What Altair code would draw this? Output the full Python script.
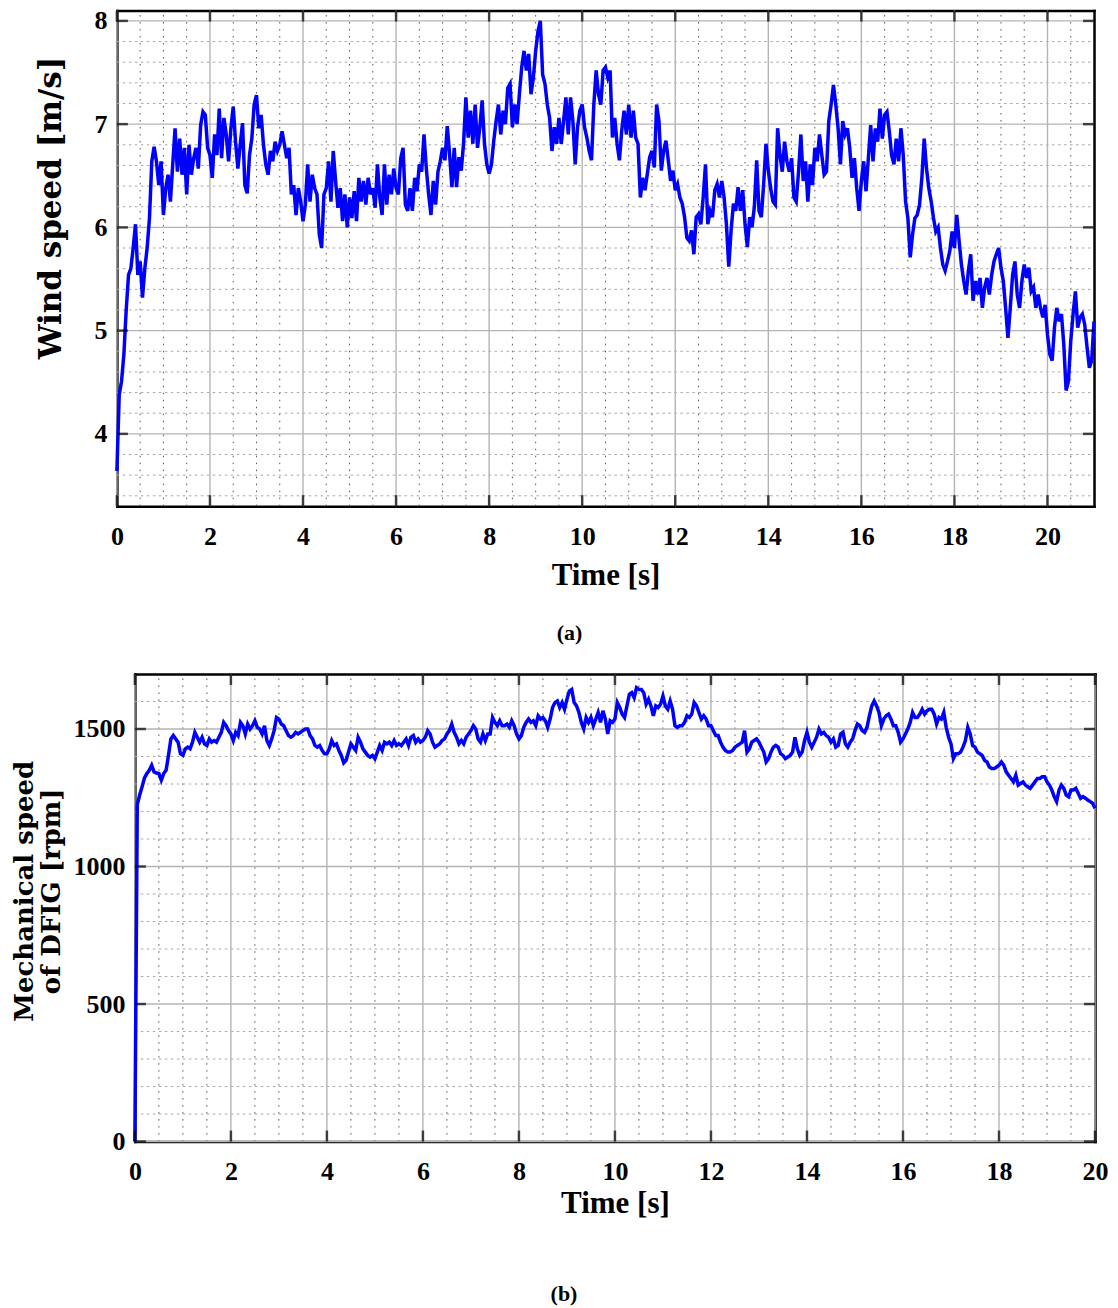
import altair as alt
import pandas as pd

STEP = 0.05  # sampling interval of the read-off values [s]

# Panel (a): wind speed [m/s], sampled every 0.05 s from t = 0 to 21 s
wind_speed = [
    3.64, 4.38, 4.51, 4.77, 5.20, 5.54, 5.60, 5.80, 6.03, 5.54, 5.67, 5.32, 5.60, 5.80, 6.09, 6.64, 6.78, 6.64, 6.41, 6.64,
    6.12, 6.38, 6.51, 6.25, 6.61, 6.96, 6.54, 6.86, 6.51, 6.77, 6.32, 6.80, 6.51, 6.67, 6.77, 6.57, 6.99, 7.12, 7.09, 6.77,
    6.70, 6.48, 6.90, 6.70, 7.15, 6.67, 7.06, 6.90, 6.64, 6.96, 7.17, 6.83, 6.57, 6.80, 7.01, 6.41, 6.33, 6.70, 6.86, 7.19,
    7.28, 6.96, 7.09, 6.80, 6.61, 6.51, 6.74, 6.64, 6.83, 6.74, 6.80, 6.93, 6.80, 6.67, 6.77, 6.32, 6.41, 6.12, 6.38, 6.25,
    6.06, 6.22, 6.61, 6.25, 6.51, 6.38, 6.32, 5.93, 5.80, 6.32, 6.38, 6.64, 6.25, 6.74, 6.45, 6.19, 6.38, 6.06, 6.32, 6.00,
    6.29, 6.09, 6.35, 6.06, 6.48, 6.25, 6.45, 6.22, 6.48, 6.32, 6.38, 6.19, 6.61, 6.29, 6.12, 6.61, 6.22, 6.51, 6.32, 6.57,
    6.38, 6.32, 6.67, 6.77, 6.22, 6.16, 6.38, 6.16, 6.48, 6.35, 6.61, 6.54, 6.90, 6.57, 6.32, 6.12, 6.45, 6.22, 6.54, 6.64,
    6.77, 6.65, 6.98, 6.71, 6.39, 6.77, 6.39, 6.68, 6.55, 6.81, 7.26, 6.87, 7.13, 6.81, 7.19, 6.77, 6.97, 7.23, 6.81, 6.61,
    6.52, 6.61, 6.84, 7.03, 7.19, 6.90, 7.13, 7.00, 7.35, 7.39, 6.97, 7.19, 7.00, 7.29, 7.55, 7.71, 7.52, 7.68, 7.29, 7.45,
    7.71, 7.90, 8.00, 7.48, 7.39, 7.19, 7.06, 6.74, 6.97, 6.81, 7.06, 6.81, 7.03, 7.26, 6.90, 7.26, 7.03, 6.61, 6.97, 7.13,
    7.19, 6.97, 6.87, 6.74, 6.65, 7.19, 7.52, 7.29, 7.19, 7.52, 7.55, 7.45, 7.52, 6.87, 7.06, 6.81, 6.65, 6.94, 7.13, 6.90,
    7.19, 6.87, 7.13, 6.87, 6.81, 6.29, 6.48, 6.36, 6.52, 6.68, 6.74, 6.58, 7.19, 7.03, 6.55, 6.74, 6.84, 6.65, 6.45, 6.55,
    6.36, 6.42, 6.29, 6.23, 6.10, 5.90, 5.87, 5.97, 5.74, 6.10, 6.13, 6.03, 6.29, 6.61, 6.03, 6.16, 6.10, 6.36, 6.42, 6.29,
    6.45, 6.29, 6.03, 5.62, 5.97, 6.23, 6.16, 6.39, 6.16, 6.36, 6.03, 5.81, 6.10, 6.00, 6.20, 6.65, 6.16, 6.10, 6.42, 6.81,
    6.55, 6.38, 6.25, 6.22, 6.96, 6.70, 6.54, 6.83, 6.64, 6.54, 6.67, 6.29, 6.25, 6.54, 6.90, 6.45, 6.64, 6.25, 6.61, 6.41,
    6.77, 6.64, 6.90, 6.70, 6.51, 6.54, 7.03, 7.19, 7.38, 7.19, 6.96, 6.61, 7.03, 6.90, 6.96, 6.77, 6.48, 6.67, 6.38, 6.16,
    6.45, 6.64, 6.35, 6.67, 6.99, 6.64, 6.96, 6.83, 7.15, 6.86, 7.09, 7.12, 6.93, 6.70, 6.61, 6.86, 6.64, 6.96, 6.70, 6.25,
    6.09, 5.71, 5.93, 6.09, 6.12, 6.22, 6.48, 6.86, 6.57, 6.38, 6.25, 6.09, 5.96, 6.00, 5.80, 5.64, 5.58, 5.67, 5.77, 5.96,
    5.80, 6.12, 5.87, 5.64, 5.48, 5.35, 5.58, 5.74, 5.29, 5.48, 5.35, 5.51, 5.22, 5.42, 5.51, 5.35, 5.54, 5.67, 5.74, 5.80,
    5.61, 5.48, 5.22, 4.93, 5.22, 5.54, 5.67, 5.35, 5.22, 5.48, 5.64, 5.51, 5.61, 5.38, 5.42, 5.22, 5.35, 5.22, 5.13, 5.25,
    4.96, 4.77, 4.71, 5.03, 5.22, 5.09, 5.16, 4.87, 4.42, 4.51, 4.90, 5.16, 5.38, 5.03, 5.13, 5.16, 5.06, 4.84, 4.64, 4.71,
    5.09,
]

# Panel (b): mechanical speed of DFIG [rpm], sampled every 0.05 s from t = 0 to 20 s
mech_speed = [
    0, 1225, 1260, 1290, 1322, 1338, 1350, 1368, 1344, 1340, 1338, 1314, 1338, 1350, 1404, 1464, 1476, 1464, 1452, 1410,
    1404, 1428, 1434, 1428, 1452, 1488, 1470, 1452, 1470, 1446, 1440, 1464, 1452, 1458, 1452, 1470, 1488, 1524, 1512, 1494,
    1482, 1458, 1488, 1476, 1524, 1512, 1482, 1518, 1500, 1512, 1530, 1506, 1500, 1482, 1512, 1458, 1440, 1464, 1494, 1542,
    1536, 1518, 1512, 1494, 1476, 1470, 1476, 1488, 1482, 1488, 1494, 1500, 1500, 1476, 1464, 1440, 1434, 1440, 1422, 1410,
    1410, 1428, 1458, 1440, 1446, 1422, 1404, 1377, 1386, 1416, 1446, 1434, 1422, 1470, 1452, 1428, 1416, 1404, 1398, 1404,
    1392, 1416, 1440, 1422, 1452, 1446, 1452, 1440, 1458, 1440, 1446, 1440, 1452, 1464, 1440, 1470, 1476, 1452, 1464, 1452,
    1458, 1470, 1494, 1482, 1452, 1434, 1440, 1446, 1458, 1464, 1482, 1494, 1518, 1488, 1470, 1446, 1458, 1446, 1470, 1482,
    1494, 1512, 1500, 1464, 1452, 1482, 1458, 1482, 1482, 1542, 1524, 1512, 1530, 1512, 1512, 1518, 1506, 1530, 1512, 1482,
    1464, 1476, 1506, 1524, 1536, 1524, 1530, 1512, 1548, 1536, 1542, 1530, 1506, 1536, 1578, 1596, 1602, 1578, 1596, 1572,
    1608, 1638, 1644, 1596, 1584, 1560, 1524, 1500, 1542, 1524, 1542, 1512, 1536, 1560, 1524, 1566, 1536, 1482, 1530, 1524,
    1536, 1596, 1578, 1554, 1542, 1584, 1626, 1632, 1614, 1650, 1644, 1644, 1632, 1590, 1608, 1584, 1548, 1584, 1578, 1590,
    1620, 1584, 1572, 1602, 1572, 1512, 1506, 1512, 1512, 1524, 1548, 1542, 1554, 1596, 1584, 1560, 1536, 1548, 1536, 1512,
    1512, 1494, 1476, 1476, 1452, 1434, 1422, 1416, 1416, 1422, 1434, 1440, 1446, 1452, 1494, 1416, 1428, 1452, 1458, 1464,
    1452, 1434, 1416, 1380, 1392, 1416, 1434, 1440, 1434, 1410, 1404, 1392, 1398, 1404, 1416, 1470, 1428, 1404, 1416, 1458,
    1488, 1452, 1434, 1452, 1470, 1500, 1482, 1488, 1476, 1470, 1452, 1464, 1434, 1440, 1482, 1488, 1446, 1434, 1452, 1464,
    1494, 1518, 1512, 1494, 1488, 1506, 1548, 1584, 1602, 1584, 1560, 1512, 1536, 1548, 1554, 1536, 1512, 1512, 1488, 1452,
    1464, 1482, 1500, 1524, 1560, 1542, 1542, 1554, 1572, 1554, 1566, 1572, 1572, 1554, 1518, 1542, 1536, 1560, 1506, 1470,
    1446, 1392, 1410, 1410, 1416, 1434, 1458, 1506, 1482, 1440, 1434, 1416, 1410, 1404, 1386, 1380, 1362, 1356, 1356, 1362,
    1368, 1380, 1368, 1344, 1332, 1320, 1308, 1332, 1296, 1302, 1308, 1296, 1290, 1284, 1296, 1308, 1320, 1320, 1326, 1326,
    1308, 1296, 1278, 1254, 1236, 1278, 1296, 1284, 1260, 1254, 1278, 1278, 1284, 1266, 1248, 1254, 1248, 1242, 1236, 1230,
    1212,
]

wind_time = [round(i * STEP, 2) for i in range(len(wind_speed))]
mech_time = [round(i * STEP, 2) for i in range(len(mech_speed))]

# Axis tick values and grid positions
a_x_major = list(range(0, 21, 2))
a_x_minor = [i / 2 for i in range(1, 42) if i % 4 != 0]
a_y_major = [4, 5, 6, 7, 8]
a_y_minor = [round(3.4 + 0.2 * i, 1) for i in range(24) if round((3.4 + 0.2 * i) % 1, 1) not in (0.0, 1.0)]
b_x_major = list(range(0, 21, 2))
b_x_minor = [i / 2 for i in range(1, 40) if i % 4 != 0]
b_y_major = [0, 500, 1000, 1500]
b_y_minor = [v for v in range(100, 1700, 100) if v % 500 != 0]

SERIF = "Liberation Serif"
TITLE_SERIF = "DejaVu Serif"


def panel(t, v, xdom, ydom, width, height, xrange, xmaj, xmin, ymaj, ymin,
          ytitle, ytitle_size, ytitle_pad, ytitle_y, yoffset, xtitle_pad,
          caption, cap_dx, cap_offset):
    xs = alt.Scale(domain=xdom, range=xrange, nice=False, zero=False)
    ys = alt.Scale(domain=ydom, nice=False, zero=False)
    df = pd.DataFrame({"t": t, "v": v})

    def vrules(vals, color, width_, dash=None):
        kw = dict(color=color, strokeWidth=width_)
        if dash:
            kw["strokeDash"] = dash
        return alt.Chart(pd.DataFrame({"g": vals})).mark_rule(**kw).encode(
            x=alt.X("g:Q", scale=xs, axis=None),
            y=alt.YDatum(ydom[0], scale=ys, axis=None),
            y2=alt.Y2Datum(ydom[1]),
        )

    def hrules(vals, color, width_, dash=None):
        kw = dict(color=color, strokeWidth=width_)
        if dash:
            kw["strokeDash"] = dash
        return alt.Chart(pd.DataFrame({"g": vals})).mark_rule(**kw).encode(
            y=alt.Y("g:Q", scale=ys, axis=None),
            x=alt.XDatum(xdom[0], scale=xs, axis=None),
            x2=alt.X2Datum(xdom[1]),
        )

    minor_v = vrules(xmin, "#555555", 1, [1.5, 5.5])
    minor_h = hrules(ymin, "#a8a8a8", 1, [2.5, 3.5])
    major_v = vrules(xmaj, "#b4b4b4", 1.4)
    major_h = hrules(ymaj, "#b4b4b4", 1.4)

    yaxis_kw = dict(
        orient="left", values=ymaj, format="d", title=ytitle, offset=yoffset,
        labelPadding=10, titleFont=TITLE_SERIF, titleFontSize=ytitle_size,
        titleFontWeight="bold", titlePadding=ytitle_pad, titleLineHeight=27,
        titleY=ytitle_y,
    )

    line = alt.Chart(df).mark_line(color="#0000ff", strokeWidth=3.5).encode(
        x=alt.X("t:Q", scale=xs, axis=alt.Axis(
            orient="bottom", values=xmaj, format="d", title="Time [s]",
            labelPadding=17, titleFont=SERIF, titleFontSize=31, titleFontWeight="bold",
            titlePadding=xtitle_pad)),
        y=alt.Y("v:Q", scale=ys, axis=alt.Axis(**yaxis_kw)),
    )

    frame = alt.Chart(df).mark_line(opacity=0).encode(
        x=alt.X("t:Q", scale=xs, axis=alt.Axis(orient="top", labels=False, title=None)),
        y=alt.Y("v:Q", scale=ys, axis=alt.Axis(orient="right", labels=False, title=None)),
    )

    tick_style = dict(color="black", thickness=2.5, size=11)
    xt = pd.DataFrame({"g": xmaj})
    yt = pd.DataFrame({"g": ymaj})
    tick_bottom = alt.Chart(xt).mark_tick(orient="vertical", yOffset=-5.5, **tick_style).encode(
        x=alt.X("g:Q", scale=xs, axis=None), y=alt.YDatum(ydom[0], scale=ys, axis=None))
    tick_top = alt.Chart(xt).mark_tick(orient="vertical", yOffset=5.5, **tick_style).encode(
        x=alt.X("g:Q", scale=xs, axis=None), y=alt.YDatum(ydom[1], scale=ys, axis=None))
    tick_left = alt.Chart(yt).mark_tick(orient="horizontal", xOffset=5.5, **tick_style).encode(
        y=alt.Y("g:Q", scale=ys, axis=None), x=alt.XDatum(xdom[0], scale=xs, axis=None))
    tick_right = alt.Chart(yt).mark_tick(orient="horizontal", xOffset=-5.5, **tick_style).encode(
        y=alt.Y("g:Q", scale=ys, axis=None), x=alt.XDatum(xdom[1], scale=xs, axis=None))

    return alt.layer(
        minor_v, minor_h, major_v, major_h, line, frame,
        tick_bottom, tick_top, tick_left, tick_right,
    ).resolve_axis(x="independent", y="independent").properties(
        width=width, height=height,
        title=alt.TitleParams(caption, orient="bottom", anchor="middle", dx=cap_dx,
                              offset=cap_offset, font=SERIF, fontSize=22,
                              fontWeight="bold", color="black"),
    )


pa = panel(wind_time, wind_speed, [0, 21], [3.3, 8.1], 978, 496, [0, 978],
           a_x_major, a_x_minor, a_y_major, a_y_minor,
           "Wind speed [m/s]", 31, 26, 197, 0, 11, "(a)", -36, 33)

pb = panel(mech_time, mech_speed, [0, 20], [0, 1700], 979, 468, [18, 979],
           b_x_major, b_x_minor, b_y_major, b_y_minor,
           ["Mechanical speed", "of DFIG [rpm]"], 26, 8, 217, -18, 4, "(b)", -42, 66)

chart = alt.vconcat(pa, pb, spacing=29).configure_view(stroke=None).configure_axis(
    labelFont=SERIF, labelFontSize=26, labelFontWeight="bold", labelColor="black",
    titleColor="black", domainColor="black", domainWidth=2.5, domainCap="square",
    grid=False, ticks=False, tickSize=0, labelFlush=False, labelOverlap=False,
    labelBound=False,
).properties(
    background="white",
    padding={"left": 12, "top": 7, "right": 10, "bottom": 5},
)

chart.save("out.html", embed_options={"renderer": "svg", "actions": False})
